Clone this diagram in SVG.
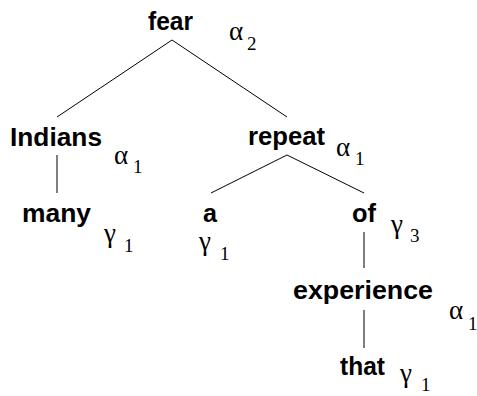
<svg xmlns="http://www.w3.org/2000/svg" width="477" height="396" viewBox="0 0 477 396">
<style>
.w{font-family:"Liberation Sans",Arial,sans-serif;font-weight:bold;font-size:25px;fill:#000}
.g{font-family:"Liberation Serif","Times New Roman",serif;font-size:27px;fill:#000}
.d{font-family:"Liberation Serif","Times New Roman",serif;font-size:19px;fill:#000}
.e line{stroke:#000;stroke-width:1}
</style>
<rect width="477" height="396" fill="#fff"/>
<g class="e" id="connectors">
<line x1="172" y1="40" x2="57" y2="117"/>
<line x1="172" y1="40" x2="287" y2="117"/>
<line x1="57" y1="155" x2="57" y2="193"/>
<line x1="287" y1="155" x2="211" y2="193"/>
<line x1="287" y1="155" x2="364" y2="193"/>
<line x1="364" y1="232" x2="364" y2="268"/>
<line x1="364" y1="310" x2="364" y2="348"/>
</g>
<g id="fear"><text class="w" x="148" y="30" textLength="45" lengthAdjust="spacingAndGlyphs">fear</text><text class="g" x="229" y="40">α</text><text class="d" x="247" y="50">2</text></g>
<g id="Indians"><text class="w" x="10" y="146" textLength="92" lengthAdjust="spacingAndGlyphs">Indians</text><text class="g" x="114" y="164">α</text><text class="d" x="133" y="173">1</text></g>
<g id="repeat"><text class="w" x="248" y="145" textLength="77" lengthAdjust="spacingAndGlyphs">repeat</text><text class="g" x="336" y="156">α</text><text class="d" x="355" y="165">1</text></g>
<g id="many"><text class="w" x="22" y="222" textLength="69" lengthAdjust="spacingAndGlyphs">many</text><text class="g" x="104" y="242">γ</text><text class="d" x="124" y="252">1</text></g>
<g id="a"><text class="w" x="203" y="222" textLength="14" lengthAdjust="spacingAndGlyphs">a</text><text class="g" x="199" y="250">γ</text><text class="d" x="220" y="260">1</text></g>
<g id="of"><text class="w" x="352" y="222" textLength="24" lengthAdjust="spacingAndGlyphs">of</text><text class="g" x="391" y="233">γ</text><text class="d" x="410" y="242">3</text></g>
<g id="experience"><text class="w" x="293" y="299" textLength="140" lengthAdjust="spacingAndGlyphs">experience</text><text class="g" x="449" y="319">α</text><text class="d" x="468" y="330">1</text></g>
<g id="that"><text class="w" x="340" y="375" textLength="45" lengthAdjust="spacingAndGlyphs">that</text><text class="g" x="400" y="382">γ</text><text class="d" x="421" y="391">1</text></g>
</svg>
